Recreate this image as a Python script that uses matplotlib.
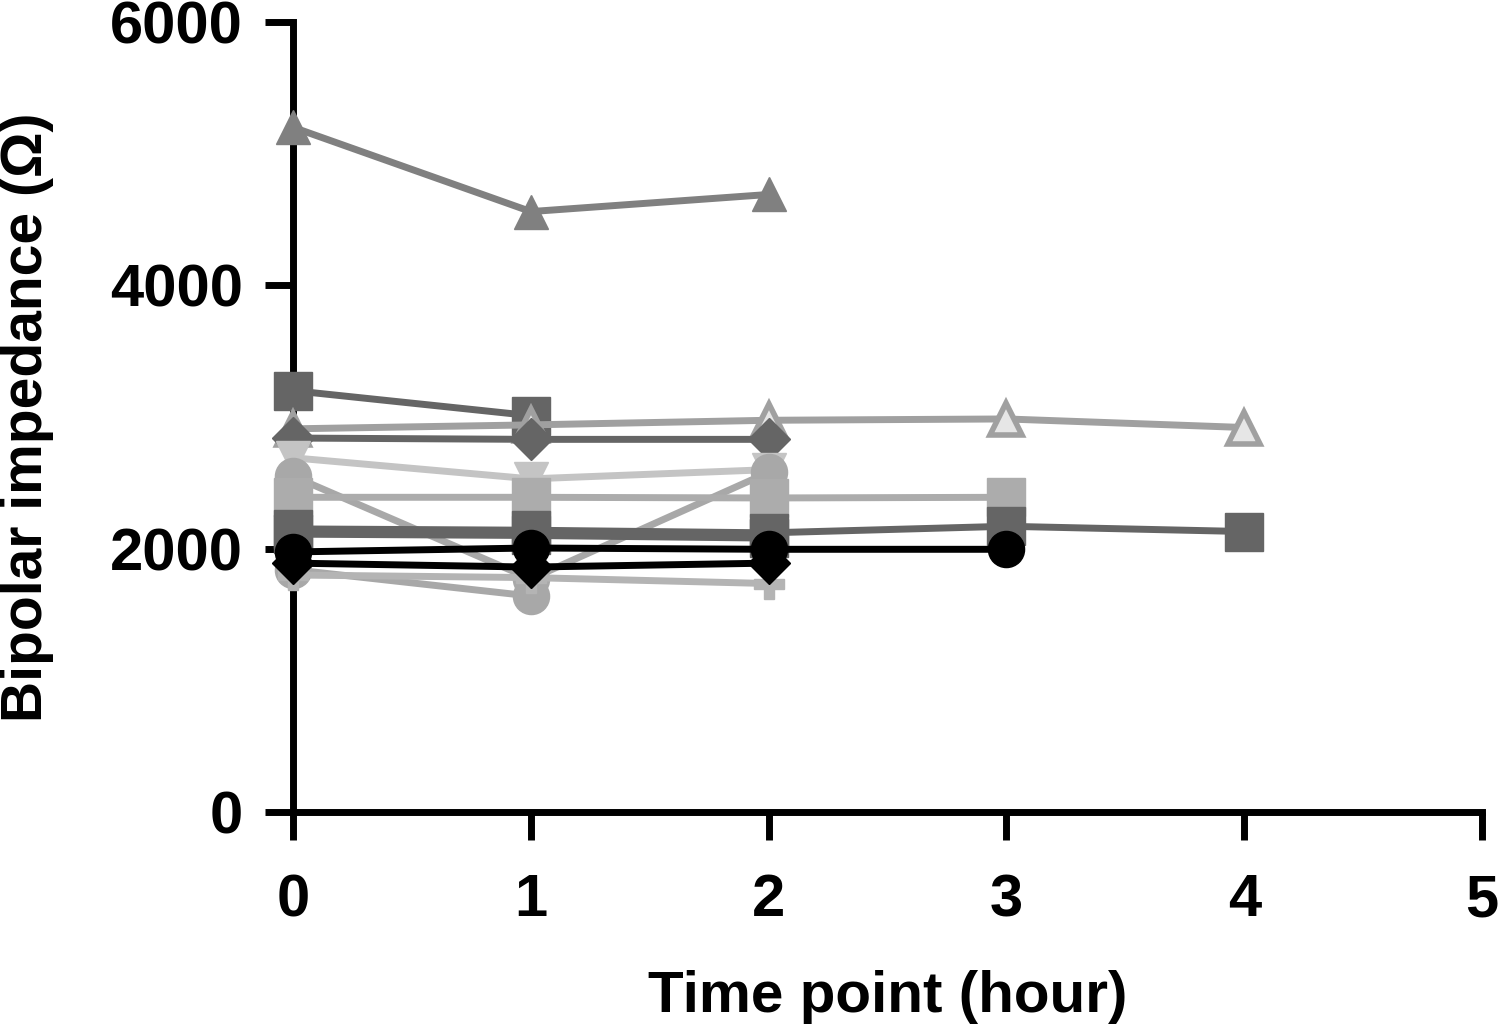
import matplotlib.pyplot as plt

plt.rcParams['font.family'] = ['Liberation Sans', 'DejaVu Sans']
plt.rcParams['font.weight'] = 'bold'

# values (ohm), one list per animal
hours = [0, 1, 2, 3, 4]

tri_up_mid = [5200, 4560, 4690]
sq_dark_a = [3200, 3010]
tri_open = [2910, 2940, 2975, 2985, 2920]
dia_dark = [2840, 2830, 2830]
tri_down_light = [2690, 2530, 2600]
circ_light_a = [2550, 1770, 2580]
sq_light = [2390, 2390, 2385, 2390]
sq_dark_b = [2150, 2140, 2120, 2170, 2130]
sq_dark_c = [2110, 2100, 2080]
circ_black = [1975, 2005, 1995, 1995]
dia_black = [1890, 1860, 1890]
plus_light = [1800, 1780, 1735]
circ_light_b = [1840, 1640]

series = [
    (tri_up_mid, "^", "#808080", "#808080"),
    (sq_dark_a, "s", "#656565", "#656565"),
    (tri_open, "^", "#a0a0a0", "#e6e6e6"),
    (dia_dark, "D", "#656565", "#656565"),
    (tri_down_light, "v", "#c4c4c4", "#c4c4c4"),
    (circ_light_b, "o", "#a8a8a8", "#a8a8a8"),
    (circ_light_a, "o", "#a8a8a8", "#a8a8a8"),
    (plus_light, "P", "#b4b4b4", "#b4b4b4"),
    (sq_light, "s", "#acacac", "#acacac"),
    (sq_dark_c, "s", "#656565", "#656565"),
    (sq_dark_b, "s", "#656565", "#656565"),
    (dia_black, "D", "#000000", "#000000"),
    (circ_black, "o", "#000000", "#000000"),
]

fig = plt.figure(figsize=(14.99, 10.32), dpi=100)
ax = fig.add_axes([0.1955, 0.2132, 0.7932, 0.7655])

for vals, mk, col, face in series:
    ms = {"s": 28, "o": 26, "D": 21, "^": 25, "v": 25, "P": 21}[mk]
    if mk == "^" and face != col:
        ms = 23
    ax.plot(hours[:len(vals)], vals, marker=mk, color=col, lw=5,
            markersize=ms, markerfacecolor=face, markeredgecolor=col,
            markeredgewidth=4 if face != col else 1, clip_on=False, zorder=3)

ax.set_xlim(0, 5)
ax.set_ylim(0, 6000)
ax.set_xticks([0, 1, 2, 3, 4, 5])
ax.set_yticks([0, 2000, 4000, 6000])

for s in ["top", "right"]:
    ax.spines[s].set_visible(False)
for s in ["left", "bottom"]:
    ax.spines[s].set_linewidth(5)
ax.spines["left"].set_bounds(0, 6000)

ax.tick_params(axis="both", length=20, width=5, labelsize=43)
ax.tick_params(axis="x", pad=24)
ax.tick_params(axis="y", pad=16)

ax.set_xlabel("Time point (hour)", fontsize=42, fontweight="bold", labelpad=30)
ax.set_ylabel("Bipolar impedance (\u03a9)", fontsize=41, fontweight="bold", labelpad=40)

plt.savefig("out.png", dpi=100)
